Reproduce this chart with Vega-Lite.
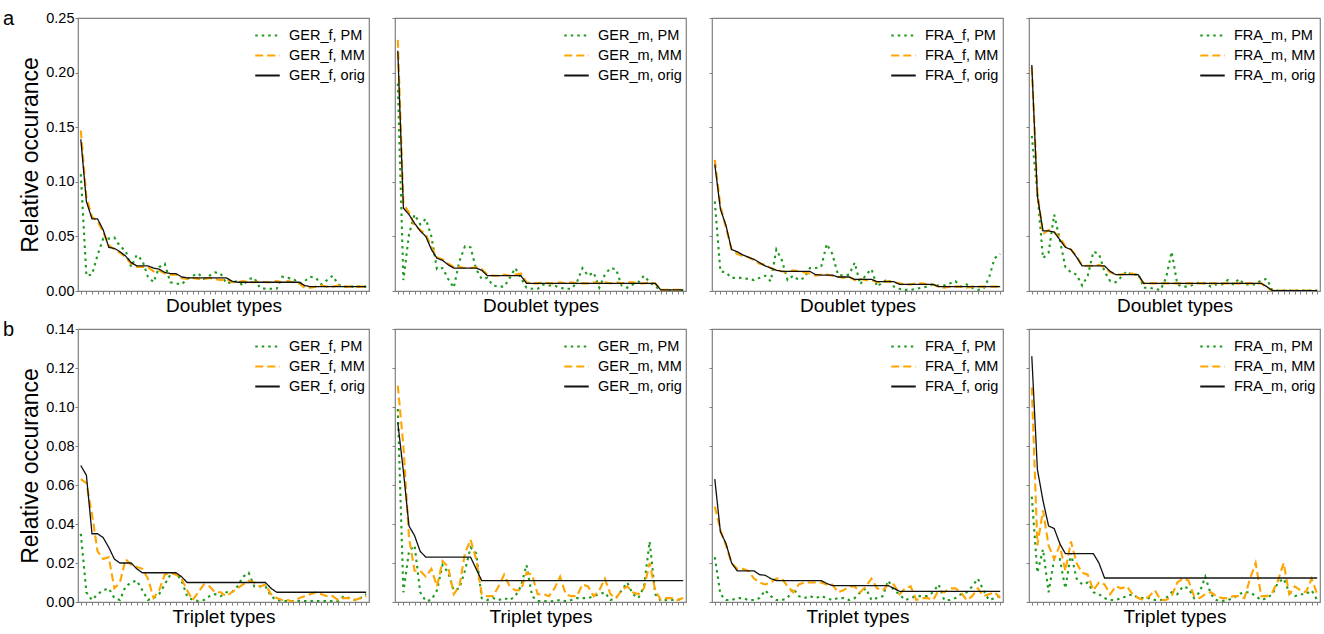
{
"$schema": "https://vega.github.io/schema/vega-lite/v6.json",
"padding": {"left": 2, "top": 9, "right": 2, "bottom": 2},
"config": {
  "font": "Liberation Sans",
  "view": {"stroke": "#808080", "strokeWidth": 1.2},
  "axis": {"domain": false, "grid": false, "tickColor": "#808080", "labelFont": "Liberation Sans", "labelFontSize": 14.5, "labelColor": "#000000", "titleFont": "Liberation Sans", "titleFontWeight": "normal", "titleColor": "#000000"},
  "axisX": {"tickSize": 3, "labels": false, "titleFontSize": 19, "titlePadding": 2},
  "axisY": {"tickSize": 3, "labelPadding": 1, "titleFontSize": 23, "titlePadding": 3},
  "legend": {"symbolType": "stroke", "symbolSize": 600, "symbolStrokeWidth": 2, "labelFont": "Liberation Sans", "labelFontSize": 14.5, "labelColor": "#000000", "rowPadding": -7, "offset": 4, "padding": 0, "labelOffset": 8, "labelLimit": 200}
},
"datasets": {
"a1": [
{"i":1,"PM":0.107,"MM":0.147,"orig":0.139},{"i":2,"PM":0.014,"MM":0.086,"orig":0.082},{"i":3,"PM":0.015,"MM":0.068,"orig":0.066},{"i":4,"PM":0.033,"MM":0.064,"orig":0.066},{"i":5,"PM":0.048,"MM":0.054,"orig":0.056},{"i":6,"PM":0.048,"MM":0.042,"orig":0.040},{"i":7,"PM":0.049,"MM":0.038,"orig":0.039},{"i":8,"PM":0.041,"MM":0.035,"orig":0.036},{"i":9,"PM":0.037,"MM":0.031,"orig":0.032},{"i":10,"PM":0.022,"MM":0.025,"orig":0.026},
{"i":11,"PM":0.033,"MM":0.022,"orig":0.023},{"i":12,"PM":0.028,"MM":0.022,"orig":0.023},{"i":13,"PM":0.013,"MM":0.022,"orig":0.023},{"i":14,"PM":0.008,"MM":0.018,"orig":0.021},{"i":15,"PM":0.022,"MM":0.019,"orig":0.020},{"i":16,"PM":0.025,"MM":0.016,"orig":0.017},{"i":17,"PM":0.008,"MM":0.015,"orig":0.016},{"i":18,"PM":0.007,"MM":0.015,"orig":0.016},{"i":19,"PM":0.006,"MM":0.012,"orig":0.013},{"i":20,"PM":0.011,"MM":0.011,"orig":0.012},
{"i":21,"PM":0.014,"MM":0.012,"orig":0.012},{"i":22,"PM":0.016,"MM":0.011,"orig":0.012},{"i":23,"PM":0.011,"MM":0.011,"orig":0.012},{"i":24,"PM":0.014,"MM":0.012,"orig":0.012},{"i":25,"PM":0.017,"MM":0.011,"orig":0.012},{"i":26,"PM":0.016,"MM":0.010,"orig":0.012},{"i":27,"PM":0.007,"MM":0.011,"orig":0.012},{"i":28,"PM":0.008,"MM":0.008,"orig":0.009},{"i":29,"PM":0.009,"MM":0.008,"orig":0.008},{"i":30,"PM":0.005,"MM":0.009,"orig":0.008},
{"i":31,"PM":0.011,"MM":0.008,"orig":0.008},{"i":32,"PM":0.012,"MM":0.008,"orig":0.008},{"i":33,"PM":0.003,"MM":0.009,"orig":0.008},{"i":34,"PM":0.002,"MM":0.008,"orig":0.008},{"i":35,"PM":0.002,"MM":0.008,"orig":0.008},{"i":36,"PM":0.002,"MM":0.009,"orig":0.008},{"i":37,"PM":0.013,"MM":0.008,"orig":0.008},{"i":38,"PM":0.012,"MM":0.009,"orig":0.008},{"i":39,"PM":0.011,"MM":0.008,"orig":0.008},{"i":40,"PM":0.007,"MM":0.007,"orig":0.008},
{"i":41,"PM":0.009,"MM":0.003,"orig":0.005},{"i":42,"PM":0.013,"MM":0.003,"orig":0.004},{"i":43,"PM":0.012,"MM":0.004,"orig":0.004},{"i":44,"PM":0.006,"MM":0.005,"orig":0.004},{"i":45,"PM":0.010,"MM":0.004,"orig":0.004},{"i":46,"PM":0.014,"MM":0.004,"orig":0.004},{"i":47,"PM":0.006,"MM":0.005,"orig":0.004},{"i":48,"PM":0.004,"MM":0.004,"orig":0.004},{"i":49,"PM":0.004,"MM":0.004,"orig":0.004},{"i":50,"PM":0.004,"MM":0.004,"orig":0.004},
{"i":51,"PM":0.004,"MM":0.004,"orig":0.004},{"i":52,"PM":0.004,"MM":0.004,"orig":0.004}
],
"a2": [
{"i":1,"PM":0.190,"MM":0.230,"orig":0.220},{"i":2,"PM":0.010,"MM":0.080,"orig":0.076},{"i":3,"PM":0.052,"MM":0.072,"orig":0.070},{"i":4,"PM":0.070,"MM":0.060,"orig":0.062},{"i":5,"PM":0.061,"MM":0.056,"orig":0.055},{"i":6,"PM":0.066,"MM":0.052,"orig":0.050},{"i":7,"PM":0.050,"MM":0.040,"orig":0.038},{"i":8,"PM":0.020,"MM":0.031,"orig":0.030},{"i":9,"PM":0.021,"MM":0.029,"orig":0.028},{"i":10,"PM":0.011,"MM":0.025,"orig":0.024},
{"i":11,"PM":0.003,"MM":0.022,"orig":0.021},{"i":12,"PM":0.027,"MM":0.022,"orig":0.021},{"i":13,"PM":0.041,"MM":0.021,"orig":0.021},{"i":14,"PM":0.040,"MM":0.021,"orig":0.021},{"i":15,"PM":0.020,"MM":0.022,"orig":0.021},{"i":16,"PM":0.011,"MM":0.020,"orig":0.019},{"i":17,"PM":0.012,"MM":0.015,"orig":0.014},{"i":18,"PM":0.005,"MM":0.014,"orig":0.014},{"i":19,"PM":0.004,"MM":0.014,"orig":0.014},{"i":20,"PM":0.004,"MM":0.015,"orig":0.014},
{"i":21,"PM":0.012,"MM":0.014,"orig":0.014},{"i":22,"PM":0.021,"MM":0.015,"orig":0.014},{"i":23,"PM":0.012,"MM":0.016,"orig":0.014},{"i":24,"PM":0.003,"MM":0.008,"orig":0.007},{"i":25,"PM":0.002,"MM":0.007,"orig":0.007},{"i":26,"PM":0.002,"MM":0.007,"orig":0.007},{"i":27,"PM":0.006,"MM":0.008,"orig":0.007},{"i":28,"PM":0.005,"MM":0.007,"orig":0.007},{"i":29,"PM":0.005,"MM":0.007,"orig":0.007},{"i":30,"PM":0.003,"MM":0.008,"orig":0.007},
{"i":31,"PM":0.002,"MM":0.007,"orig":0.007},{"i":32,"PM":0.002,"MM":0.008,"orig":0.007},{"i":33,"PM":0.008,"MM":0.007,"orig":0.007},{"i":34,"PM":0.021,"MM":0.007,"orig":0.007},{"i":35,"PM":0.014,"MM":0.007,"orig":0.007},{"i":36,"PM":0.017,"MM":0.008,"orig":0.007},{"i":37,"PM":0.003,"MM":0.007,"orig":0.007},{"i":38,"PM":0.015,"MM":0.008,"orig":0.007},{"i":39,"PM":0.021,"MM":0.007,"orig":0.007},{"i":40,"PM":0.020,"MM":0.008,"orig":0.007},
{"i":41,"PM":0.005,"MM":0.007,"orig":0.007},{"i":42,"PM":0.003,"MM":0.008,"orig":0.007},{"i":43,"PM":0.006,"MM":0.008,"orig":0.007},{"i":44,"PM":0.008,"MM":0.007,"orig":0.007},{"i":45,"PM":0.014,"MM":0.007,"orig":0.007},{"i":46,"PM":0.008,"MM":0.008,"orig":0.007},{"i":47,"PM":0.004,"MM":0.007,"orig":0.007},{"i":48,"PM":0.001,"MM":0.001,"orig":0.001},{"i":49,"PM":0.0005,"MM":0.001,"orig":0.001},{"i":50,"PM":0.0005,"MM":0.001,"orig":0.001},
{"i":51,"PM":0.0005,"MM":0.001,"orig":0.001},{"i":52,"PM":0.0005,"MM":0.001,"orig":0.001}
],
"a3": [
{"i":1,"PM":0.082,"MM":0.120,"orig":0.116},{"i":2,"PM":0.018,"MM":0.078,"orig":0.075},{"i":3,"PM":0.017,"MM":0.058,"orig":0.060},{"i":4,"PM":0.012,"MM":0.038,"orig":0.038},{"i":5,"PM":0.012,"MM":0.034,"orig":0.036},{"i":6,"PM":0.012,"MM":0.032,"orig":0.033},{"i":7,"PM":0.011,"MM":0.031,"orig":0.031},{"i":8,"PM":0.010,"MM":0.028,"orig":0.029},{"i":9,"PM":0.012,"MM":0.025,"orig":0.026},{"i":10,"PM":0.014,"MM":0.024,"orig":0.023},
{"i":11,"PM":0.009,"MM":0.021,"orig":0.021},{"i":12,"PM":0.038,"MM":0.019,"orig":0.019},{"i":13,"PM":0.028,"MM":0.018,"orig":0.018},{"i":14,"PM":0.010,"MM":0.017,"orig":0.018},{"i":15,"PM":0.014,"MM":0.019,"orig":0.018},{"i":16,"PM":0.010,"MM":0.018,"orig":0.018},{"i":17,"PM":0.012,"MM":0.017,"orig":0.018},{"i":18,"PM":0.021,"MM":0.016,"orig":0.018},{"i":19,"PM":0.021,"MM":0.014,"orig":0.015},{"i":20,"PM":0.022,"MM":0.015,"orig":0.0146},
{"i":21,"PM":0.043,"MM":0.015,"orig":0.0146},{"i":22,"PM":0.034,"MM":0.014,"orig":0.0146},{"i":23,"PM":0.015,"MM":0.013,"orig":0.0128},{"i":24,"PM":0.014,"MM":0.012,"orig":0.0128},{"i":25,"PM":0.015,"MM":0.013,"orig":0.0128},{"i":26,"PM":0.026,"MM":0.010,"orig":0.0107},{"i":27,"PM":0.006,"MM":0.011,"orig":0.0107},{"i":28,"PM":0.015,"MM":0.010,"orig":0.0107},{"i":29,"PM":0.020,"MM":0.010,"orig":0.0107},{"i":30,"PM":0.004,"MM":0.008,"orig":0.0085},
{"i":31,"PM":0.008,"MM":0.008,"orig":0.0085},{"i":32,"PM":0.011,"MM":0.009,"orig":0.0085},{"i":33,"PM":0.004,"MM":0.008,"orig":0.0085},{"i":34,"PM":0.002,"MM":0.007,"orig":0.0061},{"i":35,"PM":0.001,"MM":0.006,"orig":0.0061},{"i":36,"PM":0.001,"MM":0.006,"orig":0.0061},{"i":37,"PM":0.002,"MM":0.007,"orig":0.0061},{"i":38,"PM":0.003,"MM":0.007,"orig":0.0061},{"i":39,"PM":0.004,"MM":0.006,"orig":0.0061},{"i":40,"PM":0.006,"MM":0.006,"orig":0.0061},
{"i":41,"PM":0.005,"MM":0.004,"orig":0.004},{"i":42,"PM":0.005,"MM":0.003,"orig":0.004},{"i":43,"PM":0.007,"MM":0.004,"orig":0.004},{"i":44,"PM":0.009,"MM":0.004,"orig":0.004},{"i":45,"PM":0.004,"MM":0.004,"orig":0.004},{"i":46,"PM":0.006,"MM":0.003,"orig":0.004},{"i":47,"PM":0.003,"MM":0.004,"orig":0.004},{"i":48,"PM":0.001,"MM":0.004,"orig":0.004},{"i":49,"PM":0.002,"MM":0.004,"orig":0.004},{"i":50,"PM":0.012,"MM":0.004,"orig":0.004},
{"i":51,"PM":0.030,"MM":0.004,"orig":0.004},{"i":52,"PM":0.034,"MM":0.004,"orig":0.004}
],
"a4": [
{"i":1,"PM":0.142,"MM":0.205,"orig":0.207},{"i":2,"PM":0.090,"MM":0.090,"orig":0.087},{"i":3,"PM":0.030,"MM":0.052,"orig":0.055},{"i":4,"PM":0.035,"MM":0.056,"orig":0.055},{"i":5,"PM":0.070,"MM":0.054,"orig":0.054},{"i":6,"PM":0.047,"MM":0.049,"orig":0.047},{"i":7,"PM":0.022,"MM":0.041,"orig":0.040},{"i":8,"PM":0.017,"MM":0.038,"orig":0.038},{"i":9,"PM":0.015,"MM":0.032,"orig":0.031},{"i":10,"PM":0.005,"MM":0.023,"orig":0.023},
{"i":11,"PM":0.014,"MM":0.023,"orig":0.023},{"i":12,"PM":0.036,"MM":0.023,"orig":0.023},{"i":13,"PM":0.034,"MM":0.024,"orig":0.023},{"i":14,"PM":0.018,"MM":0.022,"orig":0.023},{"i":15,"PM":0.009,"MM":0.017,"orig":0.018},{"i":16,"PM":0.008,"MM":0.015,"orig":0.015},{"i":17,"PM":0.013,"MM":0.015,"orig":0.015},{"i":18,"PM":0.018,"MM":0.016,"orig":0.015},{"i":19,"PM":0.014,"MM":0.016,"orig":0.015},{"i":20,"PM":0.016,"MM":0.014,"orig":0.015},
{"i":21,"PM":0.003,"MM":0.007,"orig":0.007},{"i":22,"PM":0.003,"MM":0.007,"orig":0.007},{"i":23,"PM":0.002,"MM":0.007,"orig":0.007},{"i":24,"PM":0.001,"MM":0.007,"orig":0.007},{"i":25,"PM":0.012,"MM":0.007,"orig":0.007},{"i":26,"PM":0.036,"MM":0.007,"orig":0.007},{"i":27,"PM":0.006,"MM":0.007,"orig":0.007},{"i":28,"PM":0.004,"MM":0.007,"orig":0.007},{"i":29,"PM":0.004,"MM":0.007,"orig":0.007},{"i":30,"PM":0.006,"MM":0.007,"orig":0.007},
{"i":31,"PM":0.008,"MM":0.007,"orig":0.007},{"i":32,"PM":0.007,"MM":0.007,"orig":0.007},{"i":33,"PM":0.004,"MM":0.007,"orig":0.007},{"i":34,"PM":0.006,"MM":0.007,"orig":0.007},{"i":35,"PM":0.006,"MM":0.007,"orig":0.007},{"i":36,"PM":0.010,"MM":0.007,"orig":0.007},{"i":37,"PM":0.006,"MM":0.007,"orig":0.007},{"i":38,"PM":0.011,"MM":0.007,"orig":0.007},{"i":39,"PM":0.006,"MM":0.007,"orig":0.007},{"i":40,"PM":0.006,"MM":0.007,"orig":0.007},
{"i":41,"PM":0.006,"MM":0.007,"orig":0.007},{"i":42,"PM":0.010,"MM":0.007,"orig":0.007},{"i":43,"PM":0.011,"MM":0.003,"orig":0.004},{"i":44,"PM":0.0003,"MM":0.0003,"orig":0.0003},{"i":45,"PM":0.0003,"MM":0.0003,"orig":0.0003},{"i":46,"PM":0.0003,"MM":0.0003,"orig":0.0003},{"i":47,"PM":0.0003,"MM":0.0003,"orig":0.0003},{"i":48,"PM":0.0003,"MM":0.0003,"orig":0.0003},{"i":49,"PM":0.0003,"MM":0.0003,"orig":0.0003},{"i":50,"PM":0.0003,"MM":0.0003,"orig":0.0003},
{"i":51,"PM":0.0003,"MM":0.0003,"orig":0.0003},{"i":52,"PM":0.0003,"MM":0.0003,"orig":0.0003}
],
"b1": [
{"i":1,"PM":0.035,"MM":0.063,"orig":0.070},{"i":2,"PM":0.005,"MM":0.061,"orig":0.065},{"i":3,"PM":0.001,"MM":0.045,"orig":0.035},{"i":4,"PM":0.004,"MM":0.026,"orig":0.035},{"i":5,"PM":0.006,"MM":0.022,"orig":0.033},{"i":6,"PM":0.007,"MM":0.023,"orig":0.028},{"i":7,"PM":0.002,"MM":0.007,"orig":0.022},{"i":8,"PM":0.001,"MM":0.010,"orig":0.020},{"i":9,"PM":0.008,"MM":0.022,"orig":0.020},{"i":10,"PM":0.010,"MM":0.019,"orig":0.020},
{"i":11,"PM":0.011,"MM":0.018,"orig":0.017},{"i":12,"PM":0.006,"MM":0.017,"orig":0.015},{"i":13,"PM":0.001,"MM":0.012,"orig":0.015},{"i":14,"PM":0.002,"MM":0.002,"orig":0.015},{"i":15,"PM":0.004,"MM":0.006,"orig":0.015},{"i":16,"PM":0.009,"MM":0.014,"orig":0.015},{"i":17,"PM":0.014,"MM":0.015,"orig":0.015},{"i":18,"PM":0.015,"MM":0.014,"orig":0.015},{"i":19,"PM":0.011,"MM":0.012,"orig":0.013},{"i":20,"PM":0.003,"MM":0.006,"orig":0.010},
{"i":21,"PM":0.001,"MM":0.001,"orig":0.010},{"i":22,"PM":0.0005,"MM":0.005,"orig":0.010},{"i":23,"PM":0.001,"MM":0.009,"orig":0.010},{"i":24,"PM":0.003,"MM":0.008,"orig":0.010},{"i":25,"PM":0.004,"MM":0.005,"orig":0.010},{"i":26,"PM":0.003,"MM":0.005,"orig":0.010},{"i":27,"PM":0.005,"MM":0.003,"orig":0.010},{"i":28,"PM":0.005,"MM":0.005,"orig":0.010},{"i":29,"PM":0.008,"MM":0.007,"orig":0.010},{"i":30,"PM":0.013,"MM":0.009,"orig":0.010},
{"i":31,"PM":0.015,"MM":0.011,"orig":0.010},{"i":32,"PM":0.008,"MM":0.010,"orig":0.010},{"i":33,"PM":0.008,"MM":0.008,"orig":0.010},{"i":34,"PM":0.008,"MM":0.009,"orig":0.010},{"i":35,"PM":0.003,"MM":0.004,"orig":0.007},{"i":36,"PM":0.001,"MM":0.002,"orig":0.005},{"i":37,"PM":0.0005,"MM":0.001,"orig":0.005},{"i":38,"PM":0.0005,"MM":0.001,"orig":0.005},{"i":39,"PM":0.0005,"MM":0.0,"orig":0.005},{"i":40,"PM":0.0005,"MM":0.002,"orig":0.005},
{"i":41,"PM":0.0005,"MM":0.003,"orig":0.005},{"i":42,"PM":0.0005,"MM":0.004,"orig":0.005},{"i":43,"PM":0.0005,"MM":0.005,"orig":0.005},{"i":44,"PM":0.0005,"MM":0.004,"orig":0.005},{"i":45,"PM":0.0005,"MM":0.003,"orig":0.005},{"i":46,"PM":0.0005,"MM":0.003,"orig":0.005},{"i":47,"PM":0.0005,"MM":0.001,"orig":0.005},{"i":48,"PM":0.003,"MM":0.002,"orig":0.005},{"i":49,"PM":0.002,"MM":0.002,"orig":0.005},{"i":50,"PM":0.001,"MM":0.001,"orig":0.005},
{"i":51,"PM":0.002,"MM":0.002,"orig":0.005},{"i":52,"PM":0.004,"MM":0.003,"orig":0.005}
],
"b2": [
{"i":1,"PM":0.099,"MM":0.111,"orig":0.092},{"i":2,"PM":0.005,"MM":0.080,"orig":0.067},{"i":3,"PM":0.026,"MM":0.033,"orig":0.039},{"i":4,"PM":0.029,"MM":0.016,"orig":0.034},{"i":5,"PM":0.005,"MM":0.016,"orig":0.026},{"i":6,"PM":0.0005,"MM":0.013,"orig":0.023},{"i":7,"PM":0.001,"MM":0.017,"orig":0.023},{"i":8,"PM":0.006,"MM":0.008,"orig":0.023},{"i":9,"PM":0.019,"MM":0.021,"orig":0.023},{"i":10,"PM":0.015,"MM":0.018,"orig":0.023},
{"i":11,"PM":0.006,"MM":0.004,"orig":0.023},{"i":12,"PM":0.007,"MM":0.008,"orig":0.023},{"i":13,"PM":0.016,"MM":0.025,"orig":0.023},{"i":14,"PM":0.028,"MM":0.032,"orig":0.023},{"i":15,"PM":0.025,"MM":0.022,"orig":0.017},{"i":16,"PM":0.002,"MM":0.004,"orig":0.011},{"i":17,"PM":0.001,"MM":0.003,"orig":0.011},{"i":18,"PM":0.002,"MM":0.003,"orig":0.011},{"i":19,"PM":0.001,"MM":0.008,"orig":0.011},{"i":20,"PM":0.002,"MM":0.014,"orig":0.011},
{"i":21,"PM":0.001,"MM":0.008,"orig":0.011},{"i":22,"PM":0.003,"MM":0.006,"orig":0.011},{"i":23,"PM":0.008,"MM":0.006,"orig":0.011},{"i":24,"PM":0.019,"MM":0.015,"orig":0.011},{"i":25,"PM":0.003,"MM":0.014,"orig":0.011},{"i":26,"PM":0.0005,"MM":0.004,"orig":0.011},{"i":27,"PM":0.0005,"MM":0.004,"orig":0.011},{"i":28,"PM":0.0003,"MM":0.003,"orig":0.011},{"i":29,"PM":0.0005,"MM":0.007,"orig":0.011},{"i":30,"PM":0.001,"MM":0.013,"orig":0.011},
{"i":31,"PM":0.0005,"MM":0.004,"orig":0.011},{"i":32,"PM":0.001,"MM":0.003,"orig":0.011},{"i":33,"PM":0.002,"MM":0.003,"orig":0.011},{"i":34,"PM":0.002,"MM":0.009,"orig":0.011},{"i":35,"PM":0.002,"MM":0.008,"orig":0.011},{"i":36,"PM":0.003,"MM":0.003,"orig":0.011},{"i":37,"PM":0.004,"MM":0.006,"orig":0.011},{"i":38,"PM":0.005,"MM":0.012,"orig":0.011},{"i":39,"PM":0.001,"MM":0.004,"orig":0.011},{"i":40,"PM":0.002,"MM":0.002,"orig":0.011},
{"i":41,"PM":0.006,"MM":0.006,"orig":0.011},{"i":42,"PM":0.010,"MM":0.008,"orig":0.011},{"i":43,"PM":0.004,"MM":0.005,"orig":0.011},{"i":44,"PM":0.002,"MM":0.004,"orig":0.011},{"i":45,"PM":0.008,"MM":0.007,"orig":0.011},{"i":46,"PM":0.031,"MM":0.020,"orig":0.011},{"i":47,"PM":0.004,"MM":0.006,"orig":0.011},{"i":48,"PM":0.0005,"MM":0.001,"orig":0.011},{"i":49,"PM":0.001,"MM":0.002,"orig":0.011},{"i":50,"PM":0.001,"MM":0.002,"orig":0.011},
{"i":51,"PM":0.001,"MM":0.001,"orig":0.011},{"i":52,"PM":0.002,"MM":0.002,"orig":0.011}
],
"b3": [
{"i":1,"PM":0.023,"MM":0.049,"orig":0.063},{"i":2,"PM":0.004,"MM":0.037,"orig":0.036},{"i":3,"PM":0.001,"MM":0.029,"orig":0.030},{"i":4,"PM":0.001,"MM":0.020,"orig":0.020},{"i":5,"PM":0.002,"MM":0.017,"orig":0.016},{"i":6,"PM":0.002,"MM":0.017,"orig":0.016},{"i":7,"PM":0.001,"MM":0.016,"orig":0.016},{"i":8,"PM":0.001,"MM":0.012,"orig":0.016},{"i":9,"PM":0.002,"MM":0.010,"orig":0.014},{"i":10,"PM":0.006,"MM":0.009,"orig":0.0137},
{"i":11,"PM":0.003,"MM":0.010,"orig":0.012},{"i":12,"PM":0.001,"MM":0.012,"orig":0.011},{"i":13,"PM":0.001,"MM":0.012,"orig":0.011},{"i":14,"PM":0.002,"MM":0.008,"orig":0.011},{"i":15,"PM":0.007,"MM":0.005,"orig":0.011},{"i":16,"PM":0.003,"MM":0.009,"orig":0.011},{"i":17,"PM":0.002,"MM":0.010,"orig":0.011},{"i":18,"PM":0.003,"MM":0.010,"orig":0.011},{"i":19,"PM":0.002,"MM":0.010,"orig":0.011},{"i":20,"PM":0.003,"MM":0.010,"orig":0.011},
{"i":21,"PM":0.002,"MM":0.009,"orig":0.0095},{"i":22,"PM":0.001,"MM":0.009,"orig":0.0084},{"i":23,"PM":0.002,"MM":0.005,"orig":0.0084},{"i":24,"PM":0.002,"MM":0.006,"orig":0.0084},{"i":25,"PM":0.001,"MM":0.008,"orig":0.0084},{"i":26,"PM":0.002,"MM":0.008,"orig":0.0084},{"i":27,"PM":0.005,"MM":0.005,"orig":0.0084},{"i":28,"PM":0.007,"MM":0.008,"orig":0.0084},{"i":29,"PM":0.001,"MM":0.012,"orig":0.0084},{"i":30,"PM":0.002,"MM":0.007,"orig":0.0084},
{"i":31,"PM":0.003,"MM":0.006,"orig":0.0084},{"i":32,"PM":0.011,"MM":0.009,"orig":0.0084},{"i":33,"PM":0.006,"MM":0.009,"orig":0.007},{"i":34,"PM":0.004,"MM":0.004,"orig":0.0055},{"i":35,"PM":0.001,"MM":0.007,"orig":0.0055},{"i":36,"PM":0.002,"MM":0.008,"orig":0.0055},{"i":37,"PM":0.003,"MM":0.001,"orig":0.0055},{"i":38,"PM":0.003,"MM":0.002,"orig":0.0055},{"i":39,"PM":0.003,"MM":0.002,"orig":0.0055},{"i":40,"PM":0.005,"MM":0.001,"orig":0.0055},
{"i":41,"PM":0.009,"MM":0.006,"orig":0.0055},{"i":42,"PM":0.001,"MM":0.005,"orig":0.0055},{"i":43,"PM":0.001,"MM":0.007,"orig":0.0055},{"i":44,"PM":0.002,"MM":0.007,"orig":0.0055},{"i":45,"PM":0.004,"MM":0.005,"orig":0.0055},{"i":46,"PM":0.005,"MM":0.001,"orig":0.0055},{"i":47,"PM":0.008,"MM":0.003,"orig":0.0055},{"i":48,"PM":0.012,"MM":0.007,"orig":0.0055},{"i":49,"PM":0.006,"MM":0.003,"orig":0.0055},{"i":50,"PM":0.001,"MM":0.004,"orig":0.0055},
{"i":51,"PM":0.002,"MM":0.005,"orig":0.0055},{"i":52,"PM":0.003,"MM":0.002,"orig":0.0055}
],
"b4": [
{"i":1,"PM":0.054,"MM":0.110,"orig":0.126},{"i":2,"PM":0.015,"MM":0.029,"orig":0.068},{"i":3,"PM":0.027,"MM":0.047,"orig":0.052},{"i":4,"PM":0.005,"MM":0.029,"orig":0.039},{"i":5,"PM":0.022,"MM":0.022,"orig":0.0377},{"i":6,"PM":0.022,"MM":0.029,"orig":0.030},{"i":7,"PM":0.007,"MM":0.016,"orig":0.0248},{"i":8,"PM":0.025,"MM":0.031,"orig":0.0248},{"i":9,"PM":0.012,"MM":0.020,"orig":0.0248},{"i":10,"PM":0.009,"MM":0.015,"orig":0.0248},
{"i":11,"PM":0.010,"MM":0.014,"orig":0.0248},{"i":12,"PM":0.005,"MM":0.006,"orig":0.0248},{"i":13,"PM":0.004,"MM":0.010,"orig":0.020},{"i":14,"PM":0.002,"MM":0.009,"orig":0.0123},{"i":15,"PM":0.001,"MM":0.004,"orig":0.0123},{"i":16,"PM":0.001,"MM":0.008,"orig":0.0123},{"i":17,"PM":0.002,"MM":0.007,"orig":0.0123},{"i":18,"PM":0.003,"MM":0.008,"orig":0.0123},{"i":19,"PM":0.004,"MM":0.004,"orig":0.0123},{"i":20,"PM":0.002,"MM":0.002,"orig":0.0123},
{"i":21,"PM":0.002,"MM":0.001,"orig":0.0123},{"i":22,"PM":0.002,"MM":0.003,"orig":0.0123},{"i":23,"PM":0.001,"MM":0.006,"orig":0.0123},{"i":24,"PM":0.001,"MM":0.001,"orig":0.0123},{"i":25,"PM":0.002,"MM":0.001,"orig":0.0123},{"i":26,"PM":0.005,"MM":0.003,"orig":0.0123},{"i":27,"PM":0.004,"MM":0.010,"orig":0.0123},{"i":28,"PM":0.008,"MM":0.012,"orig":0.0123},{"i":29,"PM":0.007,"MM":0.011,"orig":0.0123},{"i":30,"PM":0.002,"MM":0.003,"orig":0.0123},
{"i":31,"PM":0.005,"MM":0.002,"orig":0.0123},{"i":32,"PM":0.013,"MM":0.004,"orig":0.0123},{"i":33,"PM":0.004,"MM":0.005,"orig":0.0123},{"i":34,"PM":0.001,"MM":0.003,"orig":0.0123},{"i":35,"PM":0.0005,"MM":0.002,"orig":0.0123},{"i":36,"PM":0.001,"MM":0.002,"orig":0.0123},{"i":37,"PM":0.002,"MM":0.003,"orig":0.0123},{"i":38,"PM":0.004,"MM":0.003,"orig":0.0123},{"i":39,"PM":0.005,"MM":0.002,"orig":0.0123},{"i":40,"PM":0.005,"MM":0.012,"orig":0.0123},
{"i":41,"PM":0.003,"MM":0.020,"orig":0.0123},{"i":42,"PM":0.001,"MM":0.003,"orig":0.0123},{"i":43,"PM":0.002,"MM":0.003,"orig":0.0123},{"i":44,"PM":0.004,"MM":0.005,"orig":0.0123},{"i":45,"PM":0.010,"MM":0.011,"orig":0.0123},{"i":46,"PM":0.012,"MM":0.020,"orig":0.0123},{"i":47,"PM":0.005,"MM":0.004,"orig":0.0123},{"i":48,"PM":0.003,"MM":0.008,"orig":0.0123},{"i":49,"PM":0.004,"MM":0.006,"orig":0.0123},{"i":50,"PM":0.004,"MM":0.005,"orig":0.0123},
{"i":51,"PM":0.006,"MM":0.012,"orig":0.0123},{"i":52,"PM":0.001,"MM":0.004,"orig":0.0123}
]
},
"spacing": 3,
"resolve": {"scale": {"x": "independent", "y": "independent", "color": "independent", "strokeDash": "independent"}},
"vconcat": [
{
"title": {"text": "a", "orient": "left", "anchor": "end", "angle": 0, "align": "right", "baseline": "top", "fontSize": 20, "fontWeight": "normal", "font": "Liberation Sans", "offset": -6},
"spacing": 20,
"resolve": {"scale": {"color": "independent", "strokeDash": "independent"}},
"hconcat": [
{"width": 291, "height": 273, "data": {"name": "a1"}, "transform": [{"fold": ["PM", "MM", "orig"], "as": ["series", "value"]}], "mark": {"type": "line", "clip": true},
 "encoding": {
  "x": {"field": "i", "type": "quantitative", "scale": {"domain": [0.5, 52.5], "nice": false, "zero": false}, "axis": {"title": "Doublet types", "tickCount": 52}},
  "y": {"field": "value", "type": "quantitative", "scale": {"domain": [0, 0.25], "nice": false}, "axis": {"title": "Relative occurance", "values": [0, 0.05, 0.1, 0.15, 0.2, 0.25], "format": ".2f"}},
  "color": {"field": "series", "type": "nominal", "scale": {"domain": ["PM", "MM", "orig"], "range": ["#1e9a1e", "#ffa500", "#111111"]}, "legend": {"title": null, "orient": "top-right", "labelExpr": "'GER_f, ' + datum.label"}},
  "strokeDash": {"field": "series", "type": "nominal", "scale": {"domain": ["PM", "MM", "orig"], "range": [[2.5, 4], [8, 4], [1, 0]]}, "legend": {"title": null, "orient": "top-right", "labelExpr": "'GER_f, ' + datum.label"}},
  "strokeWidth": {"condition": {"test": "datum.series === 'orig'", "value": 1.3}, "value": 2.1}
 }},
{"width": 291, "height": 273, "data": {"name": "a2"}, "transform": [{"fold": ["PM", "MM", "orig"], "as": ["series", "value"]}], "mark": {"type": "line", "clip": true},
 "encoding": {
  "x": {"field": "i", "type": "quantitative", "scale": {"domain": [0.5, 52.5], "nice": false, "zero": false}, "axis": {"title": "Doublet types", "tickCount": 52}},
  "y": {"field": "value", "type": "quantitative", "scale": {"domain": [0, 0.25], "nice": false}, "axis": {"title": null, "labels": false, "values": [0, 0.05, 0.1, 0.15, 0.2, 0.25]}},
  "color": {"field": "series", "type": "nominal", "scale": {"domain": ["PM", "MM", "orig"], "range": ["#1e9a1e", "#ffa500", "#111111"]}, "legend": {"title": null, "orient": "top-right", "labelExpr": "'GER_m, ' + datum.label"}},
  "strokeDash": {"field": "series", "type": "nominal", "scale": {"domain": ["PM", "MM", "orig"], "range": [[2.5, 4], [8, 4], [1, 0]]}, "legend": {"title": null, "orient": "top-right", "labelExpr": "'GER_m, ' + datum.label"}},
  "strokeWidth": {"condition": {"test": "datum.series === 'orig'", "value": 1.3}, "value": 2.1}
 }},
{"width": 291, "height": 273, "data": {"name": "a3"}, "transform": [{"fold": ["PM", "MM", "orig"], "as": ["series", "value"]}], "mark": {"type": "line", "clip": true},
 "encoding": {
  "x": {"field": "i", "type": "quantitative", "scale": {"domain": [0.5, 52.5], "nice": false, "zero": false}, "axis": {"title": "Doublet types", "tickCount": 52}},
  "y": {"field": "value", "type": "quantitative", "scale": {"domain": [0, 0.25], "nice": false}, "axis": {"title": null, "labels": false, "values": [0, 0.05, 0.1, 0.15, 0.2, 0.25]}},
  "color": {"field": "series", "type": "nominal", "scale": {"domain": ["PM", "MM", "orig"], "range": ["#1e9a1e", "#ffa500", "#111111"]}, "legend": {"title": null, "orient": "top-right", "labelExpr": "'FRA_f, ' + datum.label"}},
  "strokeDash": {"field": "series", "type": "nominal", "scale": {"domain": ["PM", "MM", "orig"], "range": [[2.5, 4], [8, 4], [1, 0]]}, "legend": {"title": null, "orient": "top-right", "labelExpr": "'FRA_f, ' + datum.label"}},
  "strokeWidth": {"condition": {"test": "datum.series === 'orig'", "value": 1.3}, "value": 2.1}
 }},
{"width": 291, "height": 273, "data": {"name": "a4"}, "transform": [{"fold": ["PM", "MM", "orig"], "as": ["series", "value"]}], "mark": {"type": "line", "clip": true},
 "encoding": {
  "x": {"field": "i", "type": "quantitative", "scale": {"domain": [0.5, 52.5], "nice": false, "zero": false}, "axis": {"title": "Doublet types", "tickCount": 52}},
  "y": {"field": "value", "type": "quantitative", "scale": {"domain": [0, 0.25], "nice": false}, "axis": {"title": null, "labels": false, "values": [0, 0.05, 0.1, 0.15, 0.2, 0.25]}},
  "color": {"field": "series", "type": "nominal", "scale": {"domain": ["PM", "MM", "orig"], "range": ["#1e9a1e", "#ffa500", "#111111"]}, "legend": {"title": null, "orient": "top-right", "labelExpr": "'FRA_m, ' + datum.label"}},
  "strokeDash": {"field": "series", "type": "nominal", "scale": {"domain": ["PM", "MM", "orig"], "range": [[2.5, 4], [8, 4], [1, 0]]}, "legend": {"title": null, "orient": "top-right", "labelExpr": "'FRA_m, ' + datum.label"}},
  "strokeWidth": {"condition": {"test": "datum.series === 'orig'", "value": 1.3}, "value": 2.1}
 }}
]
},
{
"title": {"text": "b", "orient": "left", "anchor": "end", "angle": 0, "align": "right", "baseline": "top", "fontSize": 20, "fontWeight": "normal", "font": "Liberation Sans", "offset": -6},
"spacing": 20,
"resolve": {"scale": {"color": "independent", "strokeDash": "independent"}},
"hconcat": [
{"width": 291, "height": 273, "data": {"name": "b1"}, "transform": [{"fold": ["PM", "MM", "orig"], "as": ["series", "value"]}], "mark": {"type": "line", "clip": true},
 "encoding": {
  "x": {"field": "i", "type": "quantitative", "scale": {"domain": [0.5, 52.5], "nice": false, "zero": false}, "axis": {"title": "Triplet types", "tickCount": 52}},
  "y": {"field": "value", "type": "quantitative", "scale": {"domain": [0, 0.14], "nice": false}, "axis": {"title": "Relative occurance", "values": [0, 0.02, 0.04, 0.06, 0.08, 0.1, 0.12, 0.14], "format": ".2f"}},
  "color": {"field": "series", "type": "nominal", "scale": {"domain": ["PM", "MM", "orig"], "range": ["#1e9a1e", "#ffa500", "#111111"]}, "legend": {"title": null, "orient": "top-right", "labelExpr": "'GER_f, ' + datum.label"}},
  "strokeDash": {"field": "series", "type": "nominal", "scale": {"domain": ["PM", "MM", "orig"], "range": [[2.5, 4], [8, 4], [1, 0]]}, "legend": {"title": null, "orient": "top-right", "labelExpr": "'GER_f, ' + datum.label"}},
  "strokeWidth": {"condition": {"test": "datum.series === 'orig'", "value": 1.3}, "value": 2.1}
 }},
{"width": 291, "height": 273, "data": {"name": "b2"}, "transform": [{"fold": ["PM", "MM", "orig"], "as": ["series", "value"]}], "mark": {"type": "line", "clip": true},
 "encoding": {
  "x": {"field": "i", "type": "quantitative", "scale": {"domain": [0.5, 52.5], "nice": false, "zero": false}, "axis": {"title": "Triplet types", "tickCount": 52}},
  "y": {"field": "value", "type": "quantitative", "scale": {"domain": [0, 0.14], "nice": false}, "axis": {"title": null, "labels": false, "values": [0, 0.02, 0.04, 0.06, 0.08, 0.1, 0.12, 0.14]}},
  "color": {"field": "series", "type": "nominal", "scale": {"domain": ["PM", "MM", "orig"], "range": ["#1e9a1e", "#ffa500", "#111111"]}, "legend": {"title": null, "orient": "top-right", "labelExpr": "'GER_m, ' + datum.label"}},
  "strokeDash": {"field": "series", "type": "nominal", "scale": {"domain": ["PM", "MM", "orig"], "range": [[2.5, 4], [8, 4], [1, 0]]}, "legend": {"title": null, "orient": "top-right", "labelExpr": "'GER_m, ' + datum.label"}},
  "strokeWidth": {"condition": {"test": "datum.series === 'orig'", "value": 1.3}, "value": 2.1}
 }},
{"width": 291, "height": 273, "data": {"name": "b3"}, "transform": [{"fold": ["PM", "MM", "orig"], "as": ["series", "value"]}], "mark": {"type": "line", "clip": true},
 "encoding": {
  "x": {"field": "i", "type": "quantitative", "scale": {"domain": [0.5, 52.5], "nice": false, "zero": false}, "axis": {"title": "Triplet types", "tickCount": 52}},
  "y": {"field": "value", "type": "quantitative", "scale": {"domain": [0, 0.14], "nice": false}, "axis": {"title": null, "labels": false, "values": [0, 0.02, 0.04, 0.06, 0.08, 0.1, 0.12, 0.14]}},
  "color": {"field": "series", "type": "nominal", "scale": {"domain": ["PM", "MM", "orig"], "range": ["#1e9a1e", "#ffa500", "#111111"]}, "legend": {"title": null, "orient": "top-right", "labelExpr": "'FRA_f, ' + datum.label"}},
  "strokeDash": {"field": "series", "type": "nominal", "scale": {"domain": ["PM", "MM", "orig"], "range": [[2.5, 4], [8, 4], [1, 0]]}, "legend": {"title": null, "orient": "top-right", "labelExpr": "'FRA_f, ' + datum.label"}},
  "strokeWidth": {"condition": {"test": "datum.series === 'orig'", "value": 1.3}, "value": 2.1}
 }},
{"width": 291, "height": 273, "data": {"name": "b4"}, "transform": [{"fold": ["PM", "MM", "orig"], "as": ["series", "value"]}], "mark": {"type": "line", "clip": true},
 "encoding": {
  "x": {"field": "i", "type": "quantitative", "scale": {"domain": [0.5, 52.5], "nice": false, "zero": false}, "axis": {"title": "Triplet types", "tickCount": 52}},
  "y": {"field": "value", "type": "quantitative", "scale": {"domain": [0, 0.14], "nice": false}, "axis": {"title": null, "labels": false, "values": [0, 0.02, 0.04, 0.06, 0.08, 0.1, 0.12, 0.14]}},
  "color": {"field": "series", "type": "nominal", "scale": {"domain": ["PM", "MM", "orig"], "range": ["#1e9a1e", "#ffa500", "#111111"]}, "legend": {"title": null, "orient": "top-right", "labelExpr": "'FRA_m, ' + datum.label"}},
  "strokeDash": {"field": "series", "type": "nominal", "scale": {"domain": ["PM", "MM", "orig"], "range": [[2.5, 4], [8, 4], [1, 0]]}, "legend": {"title": null, "orient": "top-right", "labelExpr": "'FRA_m, ' + datum.label"}},
  "strokeWidth": {"condition": {"test": "datum.series === 'orig'", "value": 1.3}, "value": 2.1}
 }}
]
}
]
}
